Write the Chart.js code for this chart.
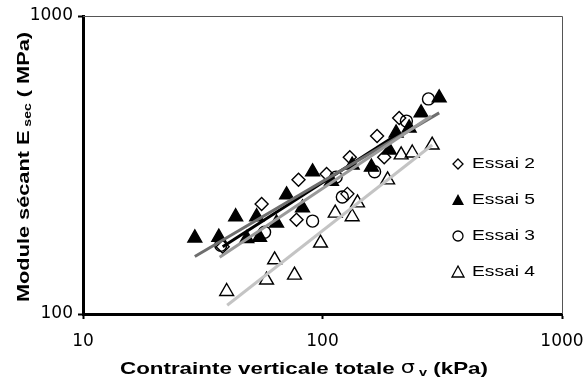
<!DOCTYPE html>
<html>
<head>
<meta charset="utf-8">
<script src="https://cdn.jsdelivr.net/npm/chart.js@4/dist/chart.umd.min.js"></script>
<style>
	html, body { margin: 0; padding: 0; background: #fff; }
</style>
</head>
<body>
<canvas id="myChart" width="583" height="387"></canvas>
<script>
'use strict';

// axis ticks (log scales)
const xTicks = [10, 100, 1000];
const yTicks = [100, 1000];

const essai2X = [38.3, 55.7, 77.9, 79.4, 104, 127, 130, 169, 181, 209];
const essai2Y = [168, 234, 207, 282, 295, 253, 336, 396, 336, 455];

const essai5X = [29.3, 36.9, 43.4, 48.3, 53.1, 54.6, 64.3, 70.8, 82.5, 90.9, 109, 133, 160, 190, 203, 230, 258, 307];
const essai5Y = [180, 181, 212, 179, 212, 181, 202, 251, 227, 300, 279, 316, 311, 355, 405, 421, 473, 531];

const essai3X = [37.6, 57.3, 90.9, 114, 121, 165, 224, 277];
const essai3Y = [170, 188, 205, 288, 247, 300, 444, 527];

const essai4X = [39.8, 58.4, 63.1, 76.4, 98.1, 113, 133, 140, 187, 213, 237, 287];
const essai4Y = [119, 130, 152, 135, 173, 218, 212, 236, 282, 342, 347, 369];

// power trend lines (end points)
const trend2X = [38.3, 209];
const trend2Y = [168, 404];
const trend5X = [29.3, 307];
const trend5Y = [156, 473];
const trend3X = [37.2, 284];
const trend3Y = [155, 462];
const trend4X = [40, 287];
const trend4Y = [107, 369];

const legendLabels = ['Essai 2', 'Essai 5', 'Essai 3', 'Essai 4'];

function generateGraph() {
	const datasets = [
		markerSet('Essai 2', essai2X, essai2Y, 'rectRot', 6.5, 'rgba(0,0,0,0)'),
		markerSet('Essai 5', essai5X, essai5Y, 'triangle', 8, '#000'),
		markerSet('Essai 3', essai3X, essai3Y, 'circle', 6, 'rgba(0,0,0,0)'),
		markerSet('Essai 4', essai4X, essai4Y, 'triangle', 8, 'rgba(0,0,0,0)'),
		trendSet(trend4X, trend4Y, '#c4c4c4'),
		trendSet(trend3X, trend3Y, '#9a9a9a'),
		trendSet(trend5X, trend5Y, '#6e6e6e'),
		trendSet(trend2X, trend2Y, '#000'),
	];

	displayGraph(datasets);
}

function toPoints(xs, ys) {
	return xs.map((x, i) => ({ x, y: ys[i] }));
}

function markerSet(label, xs, ys, style, radius, fill) {
	return {
		label,
		data: toPoints(xs, ys),
		pointStyle: style,
		pointRadius: radius,
		pointBackgroundColor: fill,
		pointBorderColor: '#000',
		pointBorderWidth: 1.4,
		showLine: false,
		order: 2,
	};
}

function trendSet(xs, ys, color) {
	return {
		label: 'trend',
		data: toPoints(xs, ys),
		showLine: true,
		borderColor: color,
		borderWidth: 3,
		pointRadius: 0,
		order: 1,
	};
}

// draw text pieces side by side, squeezed/stretched to a given width
function drawPieces(ctx, parts, x, y, width, align) {
	let natural = 0;
	parts.forEach((p) => {
		ctx.font = p.font;
		p.w = ctx.measureText(p.text).width;
		natural += p.w;
	});
	const k = width ? width / natural : 1.25;
	const total = natural * k;
	ctx.save();
	ctx.translate(align === 'left' ? x : x - total / 2, y);
	ctx.scale(k, 1);
	ctx.textBaseline = 'middle';
	ctx.textAlign = 'left';
	ctx.fillStyle = '#000';
	let pos = 0;
	parts.forEach((p) => {
		ctx.font = p.font;
		ctx.fillText(p.text, pos, p.dy || 0);
		pos += p.w;
	});
	ctx.restore();
}

function legendMarker(ctx, kind, x, y) {
	ctx.save();
	ctx.lineWidth = 1.3;
	ctx.strokeStyle = '#000';
	ctx.fillStyle = '#000';
	ctx.beginPath();
	if (kind === 0) {
		ctx.moveTo(x, y - 5); ctx.lineTo(x + 5, y); ctx.lineTo(x, y + 5); ctx.lineTo(x - 5, y);
		ctx.closePath(); ctx.stroke();
	} else if (kind === 1 || kind === 3) {
		ctx.moveTo(x, y - 6); ctx.lineTo(x + 6, y + 5); ctx.lineTo(x - 6, y + 5);
		ctx.closePath();
		if (kind === 1) ctx.fill(); else ctx.stroke();
	} else {
		ctx.arc(x, y, 5, 0, Math.PI * 2); ctx.stroke();
	}
	ctx.restore();
}

const decorPlugin = {
	id: 'decor',
	afterDraw(chart) {
		const ctx = chart.ctx;
		const a = chart.chartArea;

		// thin top and right frame
		ctx.save();
		ctx.strokeStyle = '#555';
		ctx.lineWidth = 1;
		ctx.beginPath();
		ctx.moveTo(a.left, a.top + 0.5);
		ctx.lineTo(a.right + 0.5, a.top + 0.5);
		ctx.lineTo(a.right + 0.5, a.bottom);
		ctx.stroke();
		ctx.restore();

		// legend
		legendLabels.forEach((label, i) => {
			const y = 164 + i * 36;
			legendMarker(ctx, i, 458, y);
			drawPieces(ctx, [{ text: label, font: '15px "Liberation Sans"' }], 472, y, 63, 'left');
		});

		// x axis title
		drawPieces(ctx, [
			{ text: 'Contrainte verticale totale ', font: 'bold 17px "Liberation Sans"' },
			{ text: 'σ', font: '17px "DejaVu Sans"' },
			{ text: ' v', font: 'bold 11px "Liberation Sans"', dy: 4 },
			{ text: ' (kPa)', font: 'bold 17px "Liberation Sans"' },
		], 304, 369, 368);

		// y axis title
		ctx.save();
		ctx.translate(24, 167);
		ctx.rotate(-Math.PI / 2);
		drawPieces(ctx, [
			{ text: 'Module sécant E', font: 'bold 17px "Liberation Sans"' },
			{ text: ' sec', font: 'bold 11px "Liberation Sans"', dy: 4 },
			{ text: ' ( MPa)', font: 'bold 17px "Liberation Sans"' },
		], 0, 0, 270);
		ctx.restore();
	},
};

function axisOptions(min, max, ticks, isX) {
	return {
		type: 'logarithmic',
		position: isX ? 'bottom' : 'left',
		min,
		max,
		afterBuildTicks: (scale) => {
			scale.ticks = ticks.map((v) => ({ value: v }));
		},
		afterFit: (scale) => {
			if (isX) {
				scale.height = 73;
				scale.paddingLeft = 0;
				scale.paddingRight = 0;
			} else {
				scale.width = 83;
				scale.paddingTop = 0;
				scale.paddingBottom = 0;
			}
		},
		ticks: {
			autoSkip: false,
			maxRotation: 0,
			color: '#000',
			padding: isX ? 12 : 5,
			font: { family: 'DejaVu Sans', size: 17 },
			callback: (value) => String(value),
		},
		grid: {
			drawOnChartArea: false,
			drawTicks: true,
			tickLength: 5,
			tickWidth: 2,
			color: '#000',
		},
		border: { display: true, color: '#000', width: 3 },
		title: { display: false },
	};
}

function displayGraph(datasets) {
	const ctx = document.getElementById('myChart').getContext('2d');
	const myChart = new Chart(ctx, {
		type: 'scatter',
		data: { datasets },
		options: {
			responsive: false,
			animation: false,
			devicePixelRatio: 1,
			layout: { padding: { top: 16, right: 21, left: 0, bottom: 0 } },
			plugins: {
				legend: { display: false },
				tooltip: { enabled: false },
			},
			scales: {
				x: axisOptions(10, 1000, xTicks, true),
				y: axisOptions(100, 1000, yTicks, false),
			},
		},
		plugins: [decorPlugin],
	});
}

generateGraph();
</script>
</body>
</html>
